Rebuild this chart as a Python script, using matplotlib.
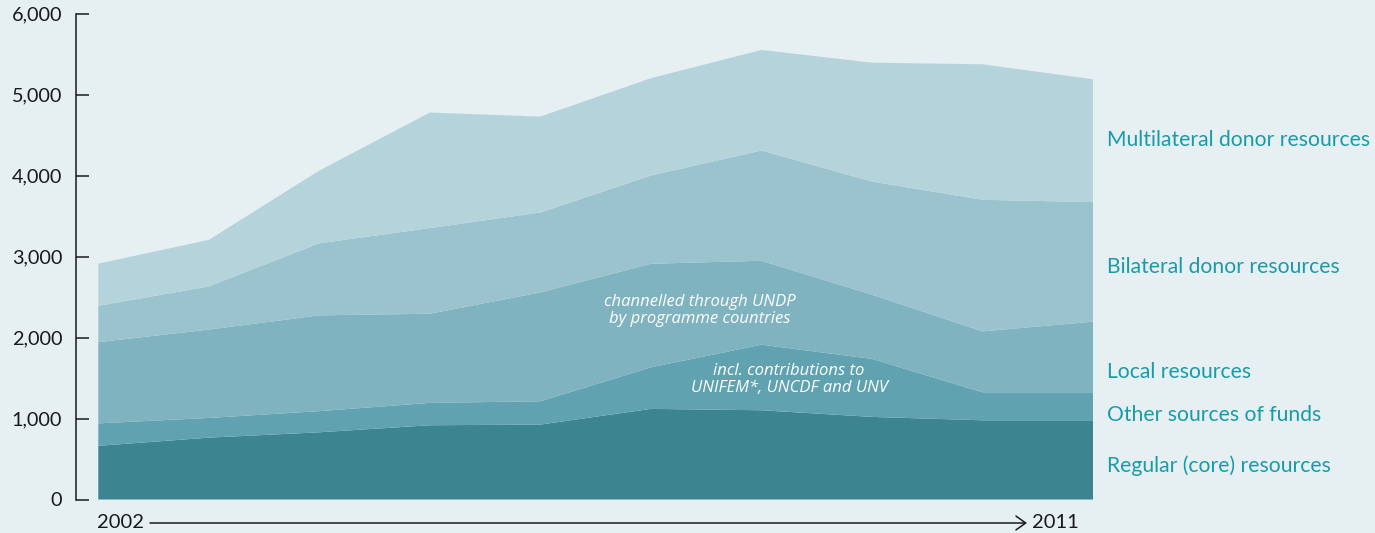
import matplotlib
matplotlib.use("Agg")
import matplotlib.pyplot as plt
import numpy as np

# ---- data (USD millions) ----
years = [2002, 2003, 2004, 2005, 2006, 2007, 2008, 2009, 2010, 2011]
regular = [663, 764, 830, 917, 925, 1119, 1102, 1020, 978, 978]
other = [277, 243, 261, 276, 288, 513, 810, 716, 346, 346]
local = [1003, 1091, 1183, 1101, 1344, 1279, 1036, 793, 752, 872]
bilateral = [449, 533, 890, 1057, 987, 1089, 1361, 1397, 1625, 1476]
multilateral = [520, 575, 898, 1427, 1184, 1202, 1242, 1468, 1673, 1517]
series_labels = ["Regular (core) resources", "Other sources of funds", "Local resources",
                 "Bilateral donor resources", "Multilateral donor resources"]
yticks = [0, 1000, 2000, 3000, 4000, 5000, 6000]
ytick_labels = ["0", "1,000", "2,000", "3,000", "4,000", "5,000", "6,000"]

colors = ["#3D8491", "#60A2B0", "#7FB3BF", "#9AC3CD", "#B5D3DB"]
bg = "#E6EFF2"
label_color = "#1A9BA8"
font = "Lato"

W, H = 1375, 533
fig = plt.figure(figsize=(W / 100, H / 100), dpi=100, facecolor=bg)
ax = fig.add_axes([76 / W, (H - 499.5) / H, (1093 - 76) / W, (499.5 - 13.6) / H])
ax.set_facecolor(bg)

stack = [regular, other, local, bilateral, multilateral]
ax.stackplot(years, *stack, colors=colors, linewidth=0, edgecolor="none")

step_px = (1093 - 98.3) / 9
ax.set_xlim(2002 - (98.3 - 76) / step_px, 2011)
ax.set_ylim(0, 6000)

for s in ["top", "right", "bottom"]:
    ax.spines[s].set_visible(False)
ax.spines["left"].set_color("#1a1a1a")
ax.spines["left"].set_linewidth(1.1)
ax.set_xticks([])
ax.set_yticks(yticks)
ax.set_yticklabels(ytick_labels, fontsize=14.3, fontfamily=font, color="#1a1a1a")
ax.tick_params(axis="y", direction="in", length=9, width=1.1, color="#1a1a1a", pad=10)

# right-hand labels (baselines in pixels from top)
baselines_px = [471.7, 420.7, 377.5, 272.7, 146]
ftr = fig.transFigure
for lab, bpx in zip(series_labels, baselines_px):
    fig.text(1107 / W, (H - bpx) / H, lab, fontsize=15.2, fontfamily=font,
             color=label_color, ha="left", va="baseline")

# white italic annotations inside the areas
ax.text(2007.44, 2333, "channelled through UNDP\nby programme countries", color="white",
        fontsize=12, fontstyle="italic", fontfamily="Open Sans", ha="center", va="center",
        linespacing=1.15)
ax.text(2008.25, 1481, "incl. contributions to\nUNIFEM*, UNCDF and UNV", color="white",
        fontsize=12, fontstyle="italic", fontfamily="Open Sans", ha="center", va="center",
        linespacing=1.15)

# bottom time arrow
fig.text(97 / W, (H - 523) / H, str(years[0]), fontsize=14.5, fontfamily=font,
         color="#1a1a1a", ha="left", va="center")
fig.text(1079 / W, (H - 523) / H, str(years[-1]), fontsize=14.5, fontfamily=font,
         color="#1a1a1a", ha="right", va="center")
fig.add_artist(matplotlib.patches.FancyArrowPatch(
    (150 / W, (H - 523) / H), (1027 / W, (H - 523) / H), transform=ftr,
    arrowstyle="->,head_length=7,head_width=5", color="#1a1a1a", linewidth=1.1,
    mutation_scale=1, shrinkA=0, shrinkB=0))

fig.savefig("out.png", dpi=100, facecolor=bg)
